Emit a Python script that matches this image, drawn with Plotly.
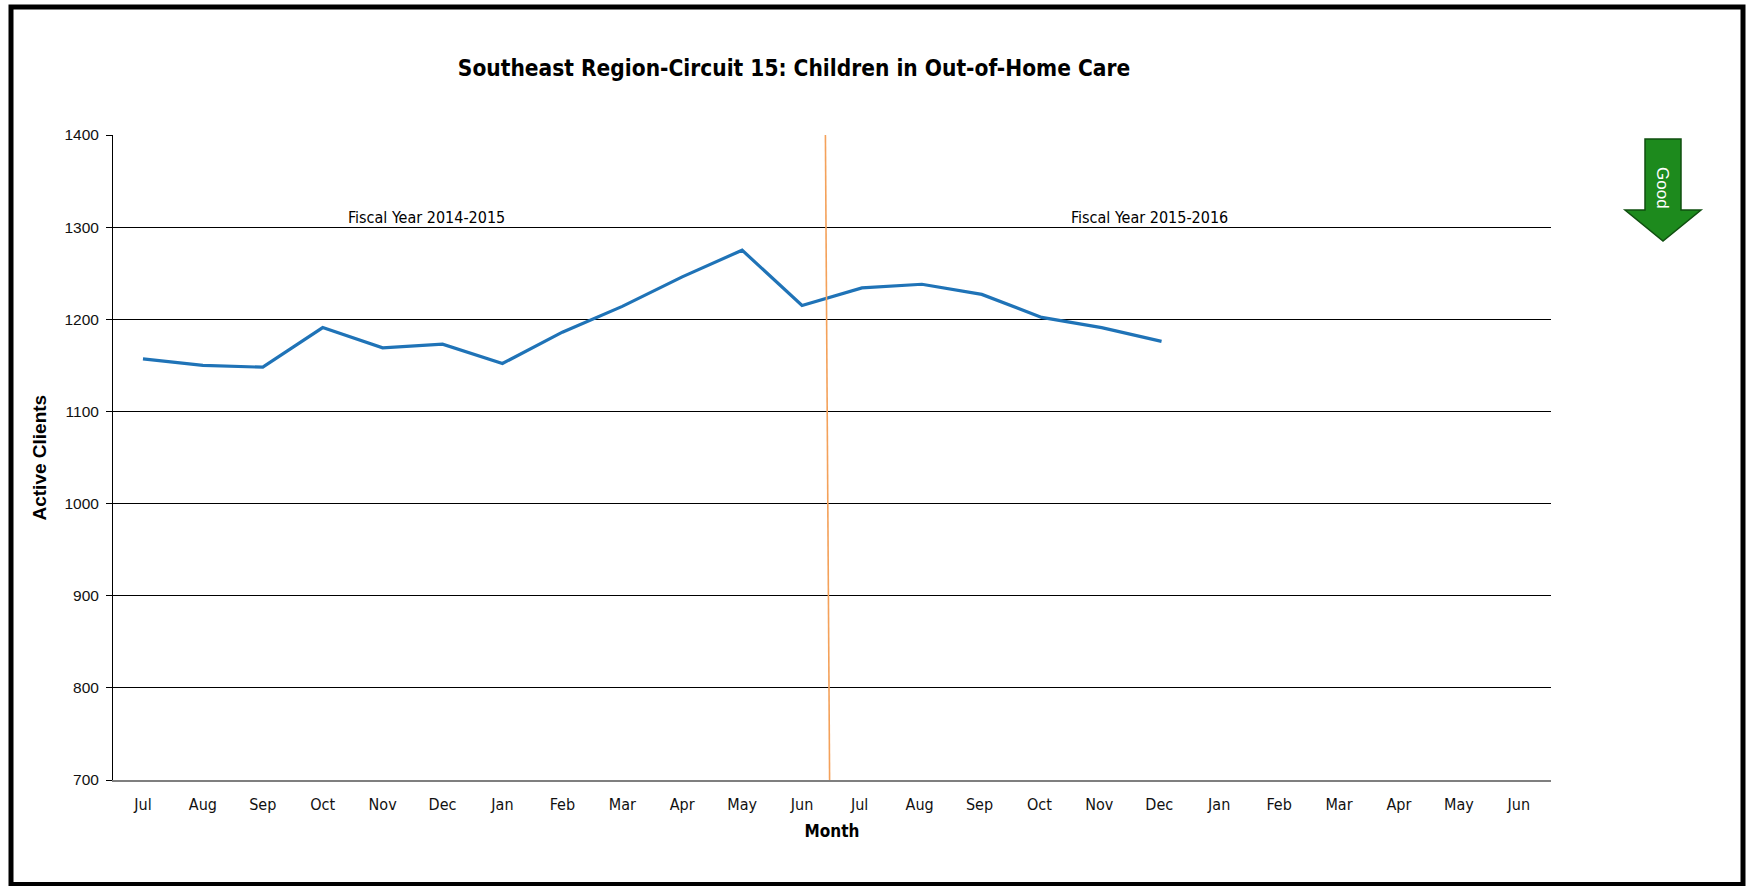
import plotly.graph_objects as go

months = ["Jul", "Aug", "Sep", "Oct", "Nov", "Dec", "Jan", "Feb", "Mar", "Apr", "May", "Jun",
          "Jul ", "Aug ", "Sep ", "Oct ", "Nov ", "Dec ", "Jan ", "Feb ", "Mar ", "Apr ", "May ", "Jun "]
active_clients = [1157, 1150, 1148, 1191, 1169, 1173, 1152, 1186, 1214, 1246, 1275, 1215,
                  1234, 1238, 1227, 1202, 1191, 1176]
y_ticks = [700, 800, 900, 1000, 1100, 1200, 1300, 1400]
fy_labels = ["Fiscal Year 2014-2015", "Fiscal Year 2015-2016"]

NARROW = "Liberation Sans Narrow, Arial Narrow, DejaVu Sans Condensed, sans-serif"
ARIAL = "Liberation Sans, Arial, sans-serif"

W, H = 1748, 886
L, R, T, B = 113, 197, 135, 106
PW, PH = W - L - R, H - T - B


def px(x):
    return (x - L) / PW


def py(y):
    return (H - B - y) / PH


fig = go.Figure()
fig.add_trace(go.Scatter(
    x=months[:len(active_clients)], y=active_clients, mode="lines",
    line=dict(color="#1f73b7", width=3.2), showlegend=False, hoverinfo="x+y"))

# invisible trace to keep all 24 categories
fig.add_trace(go.Scatter(x=months, y=[None] * len(months), mode="lines",
                         showlegend=False, hoverinfo="skip"))

shapes = []
# fiscal year divider
shapes.append(dict(type="line", xref="x", yref="y", x0=11.39, x1=11.46, y0=1400, y1=700,
                   line=dict(color="#f4a15a", width=1.6), layer="above"))
# outer frame
shapes.append(dict(type="rect", xref="paper", yref="paper",
                   x0=px(11), x1=px(1743), y0=py(884.5), y1=py(7),
                   line=dict(color="black", width=5), fillcolor="rgba(0,0,0,0)"))
# "Good" arrow
ax_l, ax_r, ah_l, ah_r, a_c = px(1645), px(1681), px(1625), px(1701), px(1663)
a_top, a_head, a_tip = py(139), py(210), py(241)
path = (f"M {ax_l} {a_top} L {ax_r} {a_top} L {ax_r} {a_head} L {ah_r} {a_head} "
        f"L {a_c} {a_tip} L {ah_l} {a_head} L {ax_l} {a_head} Z")
shapes.append(dict(type="path", xref="paper", yref="paper", path=path,
                   fillcolor="#1d8a1d", line=dict(color="#0f4f0f", width=1.5)))

annotations = [
    dict(x=4.73, y=1311, xref="x", yref="y", text=fy_labels[0], showarrow=False,
         font=dict(family=NARROW, size=16, color="black")),
    dict(x=16.8, y=1310, xref="x", yref="y", text=fy_labels[1], showarrow=False,
         font=dict(family=NARROW, size=16, color="black")),
    dict(x=a_c, y=py(188), xref="paper", yref="paper", text="Good", showarrow=False,
         xanchor="center", yanchor="middle",
         textangle=90, font=dict(family=ARIAL, size=17, color="white")),
    dict(x=px(39), y=0.5, xref="paper", yref="paper", text="<b>Active Clients</b>",
         xanchor="center", yanchor="middle",
         showarrow=False, textangle=-90, font=dict(family=ARIAL, size=19, color="black")),
]

fig.update_layout(
    width=W, height=H,
    margin=dict(l=L, r=R, t=T, b=B),
    paper_bgcolor="white", plot_bgcolor="white",
    title=dict(text="<b>Southeast Region-Circuit 15: Children in Out-of-Home Care</b>",
               x=px(794), xanchor="center", xref="paper", y=1 - 68 / H, yanchor="middle",
               font=dict(family=NARROW, size=22.5, color="black")),
    shapes=shapes,
    annotations=annotations,
    xaxis=dict(
        type="category", categoryorder="array", categoryarray=months,
        range=[-0.5, 23.5], showgrid=False, zeroline=False,
        showline=True, linecolor="#7f7f7f", linewidth=2,
        ticks="", ticklabelstandoff=9,
        tickfont=dict(family=NARROW, size=16, color="#111"),
        title=dict(text="<b>Month</b>", standoff=12,
                   font=dict(family=NARROW, size=17, color="black")),
    ),
    yaxis=dict(
        range=[700, 1400], tickvals=y_ticks, showgrid=True, gridcolor="black", gridwidth=1,
        zeroline=False, showline=True, linecolor="black", linewidth=1,
        ticks="outside", ticklen=6, tickcolor="black", ticklabelstandoff=4,
        tickfont=dict(family=ARIAL, size=15.5, color="#111"),
    ),
)

fig.write_html("out.html", config={"displayModeBar": False},
               post_script="document.body.style.margin='0';document.body.style.overflow='hidden';")
